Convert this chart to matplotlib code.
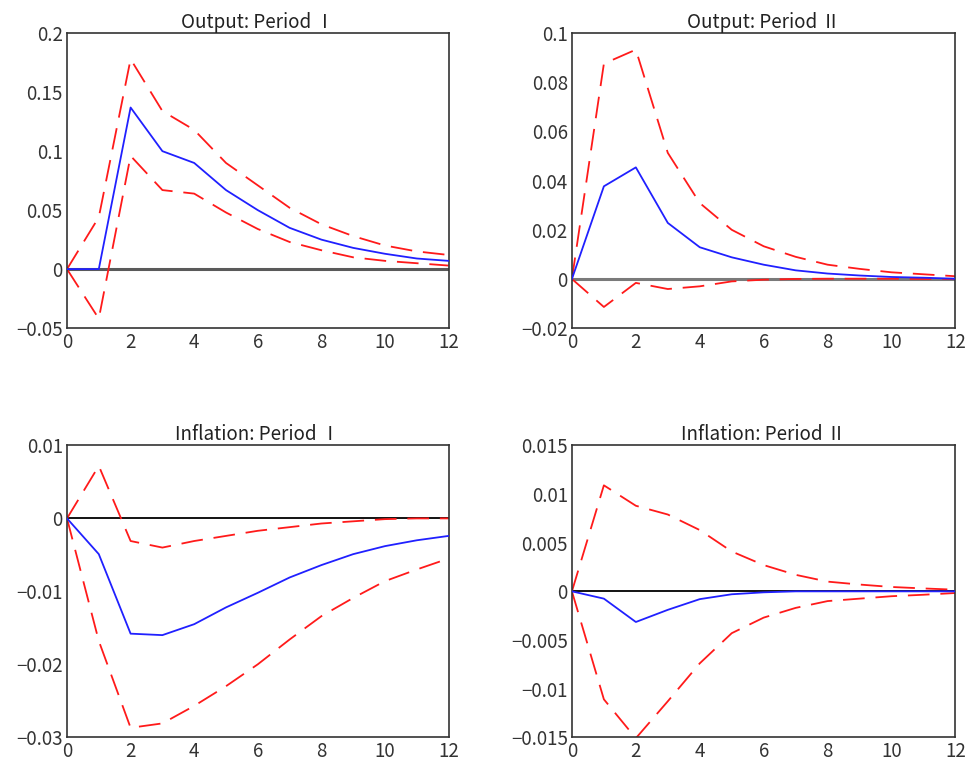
import numpy as np
import matplotlib
matplotlib.use("Agg")
import matplotlib.pyplot as plt

plt.rcParams['font.family'] = ['Noto Sans CJK JP', 'DejaVu Sans']

# HORIZON
horizon = np.arange(0, 13)

# OUTPUT, PERIOD I
out1_irf = [0, 0, 0.137, 0.100, 0.090, 0.067, 0.050, 0.035, 0.025, 0.018, 0.013, 0.009, 0.007]
out1_hi = [0, 0.044, 0.178, 0.134, 0.118, 0.090, 0.071, 0.052, 0.038, 0.028, 0.020, 0.015, 0.012]
out1_lo = [0, -0.042, 0.096, 0.067, 0.064, 0.048, 0.034, 0.023, 0.016, 0.010, 0.007, 0.005, 0.003]

# OUTPUT, PERIOD II
out2_irf = [0, 0.0377, 0.0454, 0.0228, 0.0129, 0.0088, 0.0058, 0.0035, 0.0022, 0.0014, 0.0008, 0.0005, 0.0001]
out2_hi = [0, 0.0876, 0.0933, 0.0513, 0.0309, 0.0200, 0.0133, 0.0090, 0.0058, 0.0041, 0.0027, 0.0019, 0.0011]
out2_lo = [0, -0.0114, -0.0016, -0.0041, -0.0030, -0.0010, -0.0003, 0.0000, 0.0001, 0.0001, 0.0001, 0.0000, 0.0000]

# INFLATION, PERIOD I
inf1_irf = [0, -0.0049, -0.0158, -0.0160, -0.0145, -0.0122, -0.0102, -0.0081, -0.0064, -0.0049, -0.0038, -0.0030, -0.0024]
inf1_hi = [0, 0.0072, -0.0031, -0.0040, -0.0031, -0.0024, -0.0017, -0.0012, -0.0007, -0.0004, -0.0001, 0.0000, 0.0000]
inf1_lo = [0, -0.0168, -0.0287, -0.0281, -0.0257, -0.0230, -0.0200, -0.0166, -0.0134, -0.0109, -0.0086, -0.0070, -0.0055]

# INFLATION, PERIOD II
inf2_irf = [0, -0.00075, -0.00315, -0.0019, -0.0008, -0.0003, -0.0001, 0, 0, 0, 0, 0, 0]
inf2_hi = [0, 0.0109, 0.0088, 0.0079, 0.0063, 0.0041, 0.0027, 0.0017, 0.0010, 0.0007, 0.00045, 0.0003, 0.00017]
inf2_lo = [0, -0.0111, -0.0151, -0.0113, -0.0074, -0.0043, -0.0027, -0.0017, -0.0010, -0.00075, -0.0005, -0.00035, -0.00017]

panels = [
    ("Output: Period \u2160", out1_irf, out1_hi, out1_lo, (-0.05, 0.2), [-0.05, 0, 0.05, 0.1, 0.15, 0.2],
     ["\u22120.05", "0", "0.05", "0.1", "0.15", "0.2"], "#5a5a5a", 2.2),
    ("Output: Period \u2161", out2_irf, out2_hi, out2_lo, (-0.02, 0.1), [-0.02, 0, 0.02, 0.04, 0.06, 0.08, 0.1],
     ["\u22120.02", "0", "0.02", "0.04", "0.06", "0.08", "0.1"], "#7a7a7a", 2.2),
    ("Inflation: Period \u2160", inf1_irf, inf1_hi, inf1_lo, (-0.03, 0.01), [-0.03, -0.02, -0.01, 0, 0.01],
     ["\u22120.03", "\u22120.02", "\u22120.01", "0", "0.01"], "black", 1.3),
    ("Inflation: Period \u2161", inf2_irf, inf2_hi, inf2_lo, (-0.015, 0.015),
     [-0.015, -0.01, -0.005, 0, 0.005, 0.01, 0.015],
     ["\u22120.015", "\u22120.01", "\u22120.005", "0", "0.005", "0.01", "0.015"], "black", 1.3),
]

# axes boxes: left, bottom, width, height
boxes = [
    [0.069, 0.575, 0.393, 0.382],
    [0.589, 0.575, 0.395, 0.382],
    [0.069, 0.045, 0.393, 0.378],
    [0.589, 0.045, 0.395, 0.378],
]

fig = plt.figure(figsize=(9.71, 7.72), dpi=100)

for box, (title, irf, hi, lo, ylim, yt, ytl, zcol, zlw) in zip(boxes, panels):
    ax = fig.add_axes(box)
    ax.plot(horizon, np.zeros(len(horizon)), color=zcol, lw=zlw, zorder=1)
    ax.plot(horizon, hi, color="#ff1a1a", lw=1.3, dashes=(12, 6), zorder=2)
    ax.plot(horizon, lo, color="#ff1a1a", lw=1.3, dashes=(12, 6), zorder=2)
    ax.plot(horizon, irf, color="#2020ff", lw=1.3, zorder=3)
    ax.set_xlim(0, 12)
    ax.set_ylim(*ylim)
    ax.set_xticks(range(0, 13, 2))
    ax.set_yticks(yt)
    ax.set_yticklabels(ytl)
    ax.tick_params(length=0, labelsize=13.5, labelcolor="#333333", pad=3)
    for sp in ax.spines.values():
        sp.set_color("#333333")
        sp.set_linewidth(1.2)
    ax.set_title(title, fontsize=13.5, color="#222222", pad=4)

fig.savefig("out.png", dpi=100)
